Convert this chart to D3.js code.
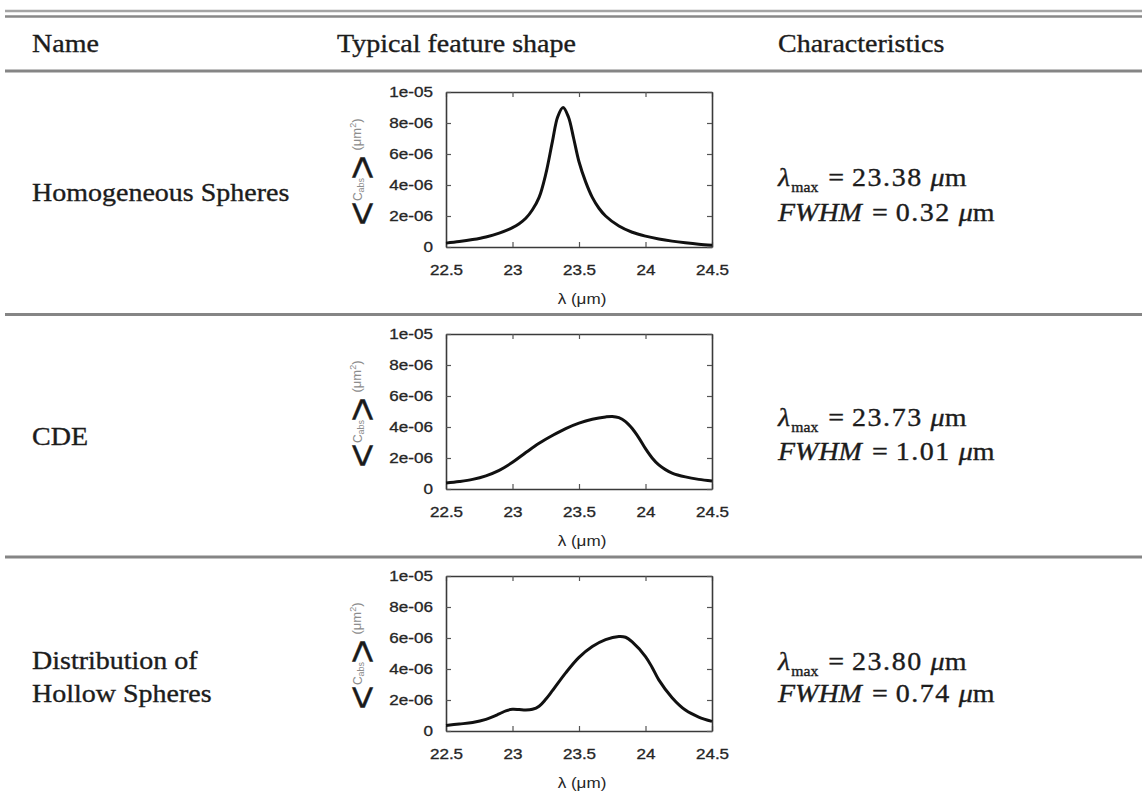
<!DOCTYPE html>
<html>
<head>
<meta charset="utf-8">
<script src="https://cdn.jsdelivr.net/npm/d3@7"></script>
<style>
  html, body { margin: 0; padding: 0; background: #fff; }
  svg { display: block; }
</style>
</head>
<body>
<svg id="chart" width="1142" height="793"></svg>
<script>
// ---- table content ----
const headers = ["Name", "Typical feature shape", "Characteristics"];
const particleNames = [["Homogeneous Spheres"], ["CDE"], ["Distribution of", "Hollow Spheres"]];
const lambdaMax = ["23.38", "23.73", "23.80"];
const fwhm = ["0.32", "1.01", "0.74"];

// ---- axis ticks ----
const xTicks = [22.5, 23, 23.5, 24, 24.5];
const xTickLabels = ["22.5", "23", "23.5", "24", "24.5"];
const yTicks = [0, 2e-6, 4e-6, 6e-6, 8e-6, 1e-5];
const yTickLabels = ["0", "2e-06", "4e-06", "6e-06", "8e-06", "1e-05"];

// ---- spectra: wavelength (µm) and <C_abs> in units of 1e-6 µm² ----
const wlHomogeneous = [22.5, 22.6, 22.7, 22.8, 22.9, 23.0, 23.05, 23.1, 23.15, 23.2, 23.25, 23.3, 23.34, 23.38, 23.42, 23.46, 23.5, 23.55, 23.6, 23.65, 23.7, 23.8, 23.9, 24.0, 24.1, 24.2, 24.3, 24.4, 24.5];
const cabsHomogeneous = [0.25, 0.35, 0.48, 0.65, 0.9, 1.25, 1.5, 1.85, 2.4, 3.2, 4.7, 6.8, 8.4, 9.0, 8.4, 7.0, 5.5, 4.2, 3.2, 2.5, 2.0, 1.35, 0.95, 0.7, 0.52, 0.38, 0.27, 0.18, 0.12];

const wlCDE = [22.5, 22.6, 22.7, 22.8, 22.9, 23.0, 23.1, 23.2, 23.3, 23.4, 23.5, 23.6, 23.7, 23.75, 23.8, 23.85, 23.9, 23.95, 24.0, 24.05, 24.1, 24.15, 24.2, 24.3, 24.4, 24.5];
const cabsCDE = [0.38, 0.48, 0.62, 0.85, 1.2, 1.72, 2.35, 2.95, 3.45, 3.9, 4.25, 4.5, 4.65, 4.68, 4.6, 4.35, 3.9, 3.3, 2.6, 2.0, 1.55, 1.25, 1.03, 0.78, 0.62, 0.52];

const wlHollow = [22.5, 22.6, 22.7, 22.8, 22.9, 22.95, 23.0, 23.05, 23.1, 23.15, 23.2, 23.25, 23.3, 23.4, 23.5, 23.6, 23.7, 23.8, 23.85, 23.9, 24.0, 24.05, 24.1, 24.2, 24.3, 24.4, 24.5];
const cabsHollow = [0.36, 0.45, 0.55, 0.75, 1.1, 1.3, 1.4, 1.38, 1.35, 1.4, 1.6, 2.05, 2.6, 3.75, 4.75, 5.45, 5.9, 6.1, 6.05, 5.75, 4.8, 4.1, 3.3, 2.15, 1.35, 0.9, 0.62];

const spectra = [
  { wl: wlHomogeneous, cabs: cabsHomogeneous },
  { wl: wlCDE, cabs: cabsCDE },
  { wl: wlHollow, cabs: cabsHollow }
];

// ---- layout ----
const svg = d3.select("#chart");
const serif = "'Liberation Serif', 'Times New Roman', serif";
const sans = "'Liberation Sans', Arial, Helvetica, sans-serif";
const textColor = "#1c1c1c";
const tickColor = "#262626";
const textStretch = 1.12;     // table text is set slightly wide
const tickStretch = 1.22;     // plot labels are set wide
const ruleColor = "#858585";

const plotLeft = 446, plotRight = 712, plotHeight = 155;
const plotTops = [92, 334, 576];
const rowTextY = [[201], [445], [669, 702]];
const charY = [[186, 221], [426, 460], [670, 702]];
const colX = [32, 337, 778];

// horizontal rules
function rule(y, w, color) {
  svg.append("line")
    .attr("x1", 5).attr("x2", 1142)
    .attr("y1", y).attr("y2", y)
    .attr("stroke", color).attr("stroke-width", w);
}
rule(11, 2.5, "#a4a4a4");
rule(16.5, 2.5, "#888");
rule(71, 3, ruleColor);
rule(314.5, 3, ruleColor);
rule(557, 3, ruleColor);

// a text line drawn with a slight horizontal stretch
function wideText(x, y, size, stretch) {
  return svg.append("text")
    .attr("transform", `translate(${x},${y}) scale(${stretch},1)`)
    .attr("font-family", serif)
    .attr("font-size", size)
    .attr("fill", textColor)
    .attr("stroke", textColor)
    .attr("stroke-width", 0.35);
}

// header row
headers.forEach((h, i) => wideText(colX[i], 52, 25, textStretch).text(h));

// name column
particleNames.forEach((lines, r) => {
  lines.forEach((line, k) => wideText(colX[0], rowTextY[r][k], 25, textStretch).text(line));
});

// characteristics column
lambdaMax.forEach((v, r) => {
  const t1 = wideText(colX[2], charY[r][0], 25, textStretch);
  t1.append("tspan").attr("font-style", "italic").text("λ");
  t1.append("tspan").attr("font-size", 14).attr("dy", 6).attr("dx", 1).text("max");
  t1.append("tspan").attr("dy", -6).attr("dx", 9).text("=");
  t1.append("tspan").attr("dx", 7).attr("letter-spacing", 1.4).text(v);
  t1.append("tspan").attr("dx", 7).attr("font-style", "italic").text("μ");
  t1.append("tspan").text("m");

  const t2 = wideText(colX[2], charY[r][1], 25, textStretch);
  t2.append("tspan").attr("font-style", "italic").text("FWHM");
  t2.append("tspan").attr("dx", 9).text("=");
  t2.append("tspan").attr("dx", 7).attr("letter-spacing", 1.4).text(fwhm[r]);
  t2.append("tspan").attr("dx", 7).attr("font-style", "italic").text("μ");
  t2.append("tspan").text("m");
});

// ---- spectra plots ----
spectra.forEach((s, r) => {
  const top = plotTops[r];
  const bottom = top + plotHeight;
  const x = d3.scaleLinear().domain([22.5, 24.5]).range([plotLeft, plotRight]);
  const y = d3.scaleLinear().domain([0, 1e-5]).range([bottom, top]);
  const g = svg.append("g");

  const styleAxis = (ax) => {
    ax.selectAll("path.domain").attr("stroke", "#3a3a3a").attr("stroke-width", 1.6);
    ax.selectAll(".tick line").attr("stroke", "#555").attr("stroke-width", 1.2);
    ax.selectAll(".tick text")
      .attr("font-family", sans)
      .attr("font-size", 14)
      .attr("fill", tickColor)
      .attr("stroke", tickColor)
      .attr("stroke-width", 0.3);
  };

  const axB = g.append("g").attr("transform", `translate(0,${bottom})`)
    .call(d3.axisBottom(x).tickValues(xTicks).tickFormat((d, i) => xTickLabels[i])
      .tickSizeInner(-5).tickSizeOuter(0).tickPadding(18));
  styleAxis(axB);
  axB.selectAll(".tick text").attr("transform", `scale(${tickStretch},1)`);

  const axT = g.append("g").attr("transform", `translate(0,${top})`)
    .call(d3.axisTop(x).tickValues(xTicks).tickFormat("").tickSizeInner(-5).tickSizeOuter(0));
  styleAxis(axT);

  const axL = g.append("g").attr("transform", `translate(${plotLeft},0)`)
    .call(d3.axisLeft(y).tickValues(yTicks).tickFormat((d, i) => yTickLabels[i])
      .tickSizeInner(-5).tickSizeOuter(0).tickPadding(13));
  styleAxis(axL);
  axL.selectAll(".tick text").attr("transform", `scale(${tickStretch},1)`)
    .attr("x", -13 / tickStretch);

  const axR = g.append("g").attr("transform", `translate(${plotRight},0)`)
    .call(d3.axisRight(y).tickValues(yTicks).tickFormat("").tickSizeInner(-5).tickSizeOuter(0));
  styleAxis(axR);

  // spectrum curve
  const pts = s.wl.map((w, i) => [w, s.cabs[i] * 1e-6]);
  g.append("path")
    .datum(pts)
    .attr("fill", "none")
    .attr("stroke", "#111")
    .attr("stroke-width", 3)
    .attr("stroke-linejoin", "round")
    .attr("d", d3.line().x(d => x(d[0])).y(d => y(d[1])).curve(d3.curveCatmullRom.alpha(0.5)));

  // x-axis title
  g.append("text")
    .attr("transform", `translate(${(plotLeft + plotRight) / 2 + 3},${bottom + 57}) scale(${tickStretch},1)`)
    .attr("text-anchor", "middle")
    .attr("font-family", sans)
    .attr("font-size", 14)
    .attr("fill", tickColor)
    .text("λ (μm)");

  // y-axis title: <C_abs> (µm²), rotated so it reads bottom to top
  const cy = (top + bottom) / 2;
  const yl = g.append("g").attr("transform", `translate(361,${cy}) rotate(-90)`);
  const bracket = (u, ch) => yl.append("text")
    .attr("transform", `translate(${u},14.5)`)
    .attr("text-anchor", "middle")
    .attr("font-family", sans)
    .attr("font-size", 41)
    .attr("fill", "#1a1a1a")
    .attr("stroke", "#1a1a1a")
    .attr("stroke-width", 0.4)
    .text(ch);
  bracket(-44, "<");
  bracket(2, ">");

  const cabs = yl.append("text")
    .attr("transform", "translate(-20,1)")
    .attr("text-anchor", "middle")
    .attr("font-family", sans)
    .attr("fill", "#8c8c8c");
  cabs.append("tspan").attr("font-size", 12).text("C");
  cabs.append("tspan").attr("font-size", 9).attr("dy", 2).text("abs");

  const unit = yl.append("text")
    .attr("transform", "translate(35,0)")
    .attr("text-anchor", "middle")
    .attr("font-family", sans)
    .attr("fill", "#8c8c8c");
  unit.append("tspan").attr("font-size", 13).text("(μm");
  unit.append("tspan").attr("font-size", 9).attr("dy", -5).text("2");
  unit.append("tspan").attr("font-size", 13).attr("dy", 5).text(")");
});
</script>
</body>
</html>
